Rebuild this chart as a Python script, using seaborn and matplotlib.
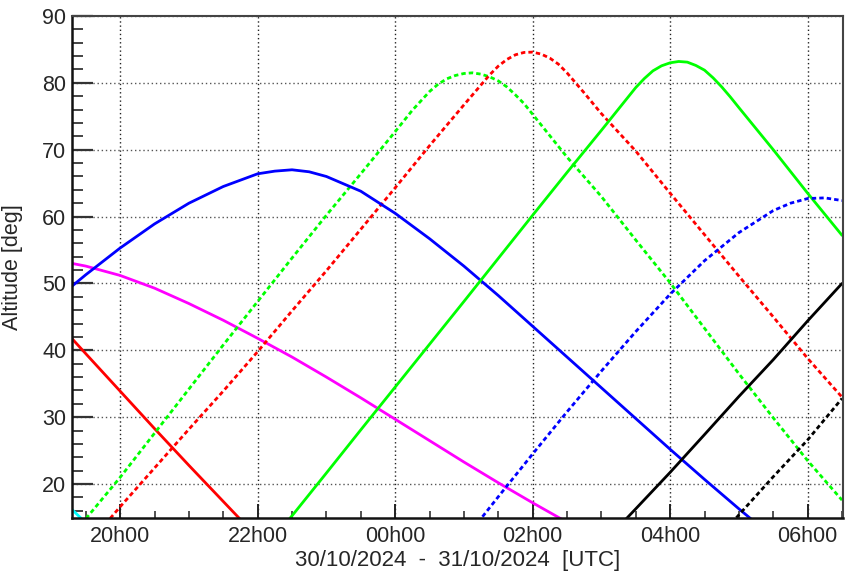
import matplotlib
matplotlib.use("Agg")
import matplotlib.pyplot as plt
import seaborn as sns
from matplotlib.ticker import FixedLocator, MultipleLocator

# ---------------- data (hours relative to 00h00 UTC, altitude in deg) ----------------
HOUR_TICKS = [-4, -2, 0, 2, 4, 6]
HOUR_LABELS = ["20h00", "22h00", "00h00", "02h00", "04h00", "06h00"]

blue_t = [-4.7, -4.5, -4.0, -3.5, -3.0, -2.5, -2.0, -1.75, -1.5, -1.25, -1.0, -0.5, 0.0,
          0.5, 1.0, 1.5, 2.0, 2.5, 3.0, 3.5, 4.0, 4.5, 5.0, 5.5]
blue_alt = [49.6, 51.3, 55.3, 58.9, 62.0, 64.5, 66.4, 66.8, 67.0, 66.7, 66.0, 63.8, 60.5,
            56.7, 52.6, 48.2, 43.6, 39.0, 34.4, 29.8, 25.2, 20.7, 16.3, 12.0]

magenta_t = [-4.7, -4.5, -4.0, -3.5, -3.0, -2.5, -2.0, -1.5, -1.0, -0.5, 0.0,
             0.5, 1.0, 1.5, 2.0, 2.5]
magenta_alt = [53.0, 52.6, 51.2, 49.3, 47.0, 44.5, 41.8, 39.0, 36.0, 32.9, 29.7,
               26.5, 23.3, 20.2, 17.2, 14.3]

red_t = [-4.7, -4.5, -4.0, -3.5, -3.0, -2.5, -2.0]
red_alt = [41.75, 39.5, 33.9, 28.3, 22.8, 17.4, 12.0]

cyan_t = [-4.7, -4.5]
cyan_alt = [16.2, 14.2]

green_d_t = [-4.7, -4.5, -4.0, -3.5, -3.0, -2.5, -2.0, -1.5, -1.0, -0.5, 0.0, 0.25, 0.5,
             0.625, 0.75, 0.875, 1.0, 1.125, 1.25, 1.375, 1.5, 1.625, 1.75, 1.875, 2.0,
             2.5, 3.0, 3.5, 4.0, 4.5, 5.0, 5.5, 6.0, 6.5]
green_d_alt = [12.2, 14.8, 21.0, 27.6, 34.2, 40.8, 47.3, 53.8, 60.2, 66.4, 72.7, 75.9, 78.7,
               79.8, 80.6, 81.1, 81.4, 81.5, 81.3, 80.9, 80.3, 79.4, 78.2, 76.9, 75.3,
               68.9, 63.0, 56.5, 50.1, 43.3, 36.5, 29.9, 23.5, 17.6]

red_d_t = [-4.5, -4.0, -3.5, -3.0, -2.5, -2.0, -1.5, -1.0, -0.5, 0.0, 0.5, 1.0, 1.25,
           1.375, 1.5, 1.625, 1.75, 1.875, 2.0, 2.125, 2.25, 2.375, 2.5, 2.625, 2.75,
           3.0, 3.5, 4.0, 4.5, 5.0, 5.5, 6.0, 6.5]
red_d_alt = [10.6, 16.6, 22.4, 28.2, 33.9, 39.8, 45.9, 51.9, 58.1, 64.3, 70.6, 76.7, 79.7,
             81.2, 82.5, 83.5, 84.2, 84.55, 84.6, 84.3, 83.7, 82.8, 81.5, 80.0, 78.5,
             75.4, 69.8, 63.5, 57.3, 51.1, 45.0, 38.8, 33.0]

green_t = [-1.6, -1.5, -1.0, -0.5, 0.0, 0.5, 1.0, 1.5, 2.0, 2.5, 3.0, 3.25, 3.375, 3.5,
           3.625, 3.75, 3.875, 4.0, 4.125, 4.25, 4.375, 4.5, 4.625, 4.75, 4.875, 5.0,
           5.5, 6.0, 6.5]
green_alt = [14.0, 15.25, 21.65, 28.1, 34.5, 40.9, 47.3, 53.75, 60.2, 66.6, 72.9, 76.1, 77.7, 79.3,
             80.65, 81.8, 82.55, 83.0, 83.2, 83.1, 82.6, 81.9, 80.75, 79.4, 77.9, 76.3,
             70.0, 63.5, 57.2]

blue_d_t = [1.0, 1.5, 2.0, 2.5, 3.0, 3.5, 4.0, 4.5, 5.0, 5.5, 5.75, 6.0, 6.25, 6.5]
blue_d_alt = [11.6, 18.1, 24.5, 30.8, 36.9, 42.8, 48.4, 53.4, 57.6, 60.9, 62.0, 62.7, 62.8, 62.4]

black_t = [3.25, 3.5, 4.0, 4.5, 5.0, 5.5, 6.0, 6.5]
black_alt = [13.6, 16.3, 21.75, 27.4, 33.1, 38.6, 44.4, 50.0]

black_d_t = [4.75, 5.0, 5.5, 6.0, 6.5]
black_d_alt = [12.4, 15.4, 21.1, 26.6, 32.8]

SERIES = [
    (magenta_t, magenta_alt, "#ff00ff", False),
    (red_t, red_alt, "#ff0000", False),
    (cyan_t, cyan_alt, "#00ffff", False),
    (green_d_t, green_d_alt, "#00ff00", True),
    (red_d_t, red_d_alt, "#ff0000", True),
    (blue_t, blue_alt, "#0000ff", False),
    (green_t, green_alt, "#00ff00", False),
    (blue_d_t, blue_d_alt, "#0000ff", True),
    (black_t, black_alt, "#000000", False),
    (black_d_t, black_d_alt, "#000000", True),
]

# ---------------- figure ----------------
sns.set_style("ticks")
plt.rcParams["font.family"] = ["Liberation Sans", "DejaVu Sans"]

W, H = 851, 576
fig = plt.figure(figsize=(W / 100, H / 100), dpi=100)
L, R, T, B = 72, 842.7, 16, 517.5
ax = fig.add_axes([L / W, 1 - B / H, (R - L) / W, (B - T) / H])

for t, a, c, dashed in SERIES:
    ls = (0, (1.6, 1.1)) if dashed else "-"
    sns.lineplot(x=t, y=a, ax=ax, color=c, linewidth=2.0, linestyle=ls,
                 sort=False, estimator=None, legend=False)

ax.set_xlim(-4.70, 6.51)
ax.set_ylim(15, 90)

ax.xaxis.set_major_locator(FixedLocator(HOUR_TICKS))
ax.set_xticklabels(HOUR_LABELS)
ax.xaxis.set_minor_locator(MultipleLocator(0.5))
ax.yaxis.set_major_locator(MultipleLocator(10))
ax.yaxis.set_minor_locator(MultipleLocator(2))

ax.xaxis.grid(True, which="major", linestyle=(0, (1, 2)), color="#222222", linewidth=1.0)
ax.yaxis.grid(True, which="major", linestyle=(0, (1, 2)), color="#555555", linewidth=1.0)

ax.tick_params(axis="y", which="major", direction="in", length=15, width=1.6,
               color="#333333", labelsize=15.5, pad=4)
ax.tick_params(axis="y", which="minor", direction="in", length=8, width=1.4, color="#444444")
ax.tick_params(axis="x", which="major", direction="in", length=10, width=1.4,
               color="#222222", labelsize=15.5, pad=6)
ax.tick_params(axis="x", which="minor", direction="in", length=5, width=1.2, color="#333333")

for side in ["left", "bottom"]:
    ax.spines[side].set_linewidth(1.8)
    ax.spines[side].set_color("#111111")
for side in ["top", "right"]:
    ax.spines[side].set_linewidth(1.5)
    ax.spines[side].set_color("#444444")

ax.set_xlabel("30/10/2024  -  31/10/2024  [UTC]", fontsize=16, labelpad=2)
ax.set_ylabel("Altitude [deg]", fontsize=15.5, labelpad=14)

fig.savefig("out.png", dpi=100)
